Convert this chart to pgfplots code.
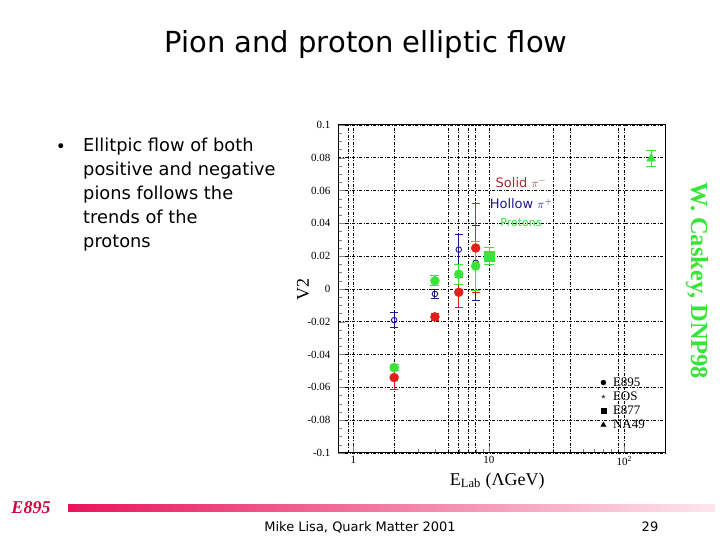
\documentclass[border=0pt]{standalone}
\usepackage{fontspec}
\setmainfont{DejaVu Sans}
\newfontfamily\serif{Liberation Serif}
\usepackage{pgfplots}
\pgfplotsset{compat=1.18}
\definecolor{ptred}{RGB}{228,30,28}
\definecolor{ptgreen}{RGB}{55,228,55}
\definecolor{ptblue}{RGB}{25,25,140}
\definecolor{lblred}{RGB}{175,40,50}
\definecolor{barpink}{RGB}{232,20,92}
\definecolor{barpale}{RGB}{252,230,238}
\definecolor{e895red}{RGB}{200,10,60}

% E895 pi- (solid), pi+ (hollow), protons; E877 and NA49 protons
\pgfplotstableread{
E     v2      err
2    -0.054   0.007
4    -0.017   0.002
6    -0.002   0.009
8     0.025   0.027
}\pimin
\pgfplotstableread{
E     v2      err
2    -0.019   0.0045
4    -0.003   0.003
6     0.024   0.009
8     0.016   0.023
}\piplus
\pgfplotstableread{
E     v2      err
2    -0.048   0.002
4     0.005   0.003
6     0.009   0.006
8     0.014   0.015
}\protE
\pgfplotstableread{
E     v2      err
10.1  0.020   0.005
}\protEE
\pgfplotstableread{
E     v2      err
158   0.0795  0.005
}\protNA

\begin{document}
\begin{tikzpicture}
\useasboundingbox (0pt,0pt) rectangle (720pt,540pt);

% slide text
\node[font=\fontsize{29}{32}\selectfont] at (366pt,495pt) {Pion and proton elliptic flow};
\node[font=\fontsize{17}{17}\selectfont] at (61pt,392pt) {•};
\node[anchor=north west, align=left, inner sep=0pt, font=\fontsize{17.8}{24}\selectfont]
  at (83pt,402pt) {Ellitpic flow of both\\positive and negative\\pions follows the\\trends of the\\protons};
\node[rotate=-90, text=ptgreen, font=\serif\bfseries\fontsize{24.5}{25}\selectfont] at (697pt,259pt) {W. Caskey, DNP98};

\begin{axis}[
  at={(338pt,87pt)}, anchor=south west,
  scale only axis, width=327pt, height=328pt,
  xmode=log, xmin=0.77, xmax=200, ymin=-0.1, ymax=0.1,
  xtick={1,10,100}, xticklabels={1,10,10\textsuperscript{2}},
  extra x ticks={0.92,2,5,6,7,8,30,40,90},
  extra x tick labels={},
  extra x tick style={major tick length=0pt, grid=major},
  ytick={-0.1,-0.08,-0.06,-0.04,-0.02,0,0.02,0.04,0.06,0.08,0.1},
  yticklabels={-0.1,-0.08,-0.06,-0.04,-0.02,0,0.02,0.04,0.06,0.08,0.1},
  minor y tick num=3,
  xtick pos=bottom, ytick pos=left,
  tick align=inside, major tick length=7pt, minor tick length=4pt,
  xmajorgrids, ymajorgrids,
  major grid style={black, line width=0.6pt, dash pattern=on 3pt off 1.5pt on 1pt off 1.5pt},
  axis line style={line width=1pt},
  ticklabel style={font=\serif\fontsize{11}{11}\selectfont},
  yticklabel style={xshift=-4pt},
  xlabel={E\textsubscript{Lab} (ΛGeV)}, ylabel={V2},
  label style={font=\serif\fontsize{18}{18}\selectfont},
  xlabel style={at={(axis description cs:0.487,-0.085)}, anchor=center},
  ylabel style={at={(axis description cs:-0.107,0.497)}, anchor=center},
  legend style={at={(0.8,0.24)}, anchor=north west, draw=none, fill=none,
    font=\serif\fontsize{13}{13}\selectfont, row sep=0pt, inner sep=1pt,
    /tikz/every odd column/.append style={column sep=5pt}},
  legend cell align=left,
  error bars/y dir=both, error bars/y explicit,
]
\addlegendimage{only marks, mark=*, black, mark size=2.5pt}
\addlegendentry{E895}
\addlegendimage{only marks, mark=star, black, mark size=2pt}
\addlegendentry{EOS}
\addlegendimage{only marks, mark=square*, black, mark size=2.5pt}
\addlegendentry{E877}
\addlegendimage{only marks, mark=triangle*, black, mark size=3pt}
\addlegendentry{NA49}

\addplot[forget plot, only marks, mark=o, mark size=2.8pt, ptblue, line width=0.9pt,
  error bars/error bar style={ptblue, line width=0.9pt},
  error bars/error mark options={rotate=90, mark size=4pt, line width=0.9pt}]
  table[x=E, y=v2, y error=err] {\piplus};
\addplot[forget plot, only marks, mark=*, mark size=4.5pt, ptred,
  error bars/error bar style={ptred, line width=1pt},
  error bars/error mark options={rotate=90, mark size=4pt, line width=1pt}]
  table[x=E, y=v2, y error=err] {\pimin};
\addplot[forget plot, only marks, mark=*, mark size=4.5pt, ptgreen,
  error bars/error bar style={ptgreen, line width=1pt},
  error bars/error mark options={rotate=90, mark size=4.5pt, line width=1pt}]
  table[x=E, y=v2, y error=err] {\protE};
\addplot[forget plot, only marks, mark=square*, mark size=5pt, ptgreen,
  error bars/error bar style={ptgreen, line width=1pt},
  error bars/error mark options={rotate=90, mark size=5pt, line width=1pt}]
  table[x=E, y=v2, y error=err] {\protEE};
\addplot[forget plot, only marks, mark=triangle*, mark size=5pt, ptgreen,
  error bars/error bar style={ptgreen, line width=1pt},
  error bars/error mark options={rotate=90, mark size=5pt, line width=1pt}]
  table[x=E, y=v2, y error=err] {\protNA};
\end{axis}

% labels inside the plot
\node[text=lblred, font=\fontsize{13}{13}\selectfont] at (521pt,357pt) {Solid $\pi^-$};
\node[text=ptblue, font=\fontsize{13}{13}\selectfont] at (521pt,336pt) {Hollow $\pi^+$};
\node[text=ptgreen, font=\fontsize{11}{11}\selectfont] at (521pt,317pt) {Protons};

% footer
\shade[left color=barpink, right color=barpale] (68pt,28pt) rectangle (715pt,35pt);
\node[text=e895red, font=\serif\bfseries\itshape\fontsize{18}{18}\selectfont] at (31pt,32pt) {E895};
\node[font=\fontsize{13}{13}\selectfont] at (360pt,13pt) {Mike Lisa, Quark Matter 2001};
\node[font=\fontsize{13}{13}\selectfont] at (650pt,13pt) {29};
\end{tikzpicture}
\end{document}
